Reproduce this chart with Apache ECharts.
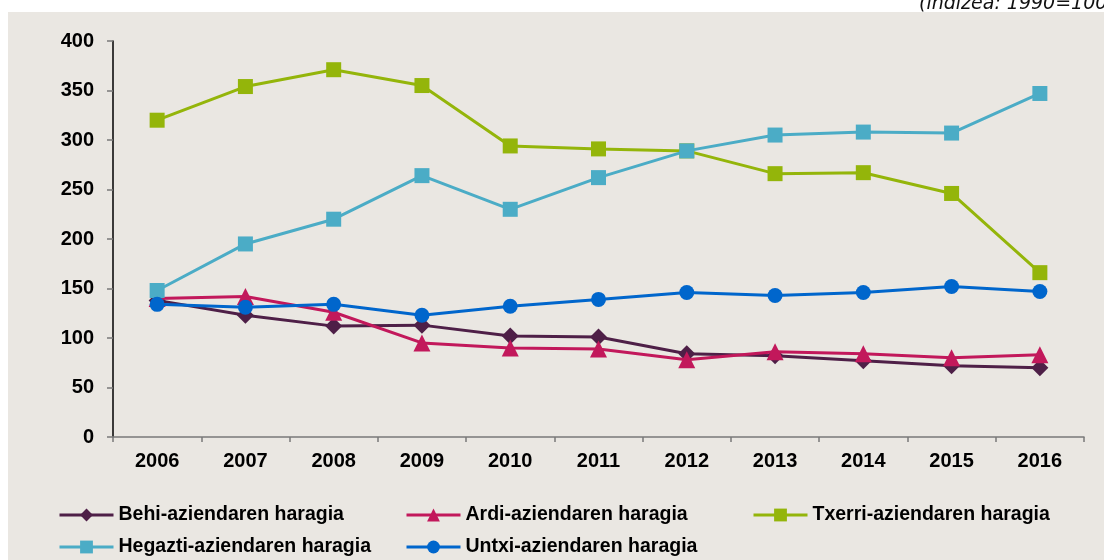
<!DOCTYPE html>
<html>
<head>
<meta charset="utf-8">
<title>Haragiaren prezio indizeak</title>
<script src="https://cdn.jsdelivr.net/npm/echarts@6/dist/echarts.min.js"></script>
<style>
  html, body { margin: 0; padding: 0; background: #ffffff; }
  #chart { width: 1104px; height: 560px; }
</style>
</head>
<body>
<div id="chart"></div>
<script>
// Years on the category axis
const years = ['2006', '2007', '2008', '2009', '2010', '2011', '2012', '2013', '2014', '2015', '2016'];

// Index values (1990 = 100) per meat type
const behi    = [138, 123, 112, 113, 102, 101, 84, 82, 77, 72, 70];
const ardi    = [140, 142, 126, 95, 90, 89, 78, 86, 84, 80, 83];
const txerri  = [320, 354, 371, 355, 294, 291, 289, 266, 267, 246, 166];
const hegazti = [148, 195, 220, 264, 230, 262, 289, 305, 308, 307, 347];
const untxi   = [134, 131, 134, 123, 132, 139, 146, 143, 146, 152, 147];

// Value axis range
const yMin = 0, yMax = 400, yStep = 50;

const names = [
  'Behi-aziendaren haragia',
  'Ardi-aziendaren haragia',
  'Txerri-aziendaren haragia',
  'Hegazti-aziendaren haragia',
  'Untxi-aziendaren haragia'
];

const colors = ['#4e1f47', '#c2185b', '#94b50a', '#4bacc6', '#0066cc'];
const symbols = ['diamond', 'triangle', 'rect', 'rect', 'circle'];
const symbolSizes = [17, 17, 15, 15, 15];
const values = [behi, ardi, txerri, hegazti, untxi];

const font = '"Liberation Sans", Arial, sans-serif';

const series = names.map((name, i) => ({
  name: name,
  type: 'line',
  data: values[i],
  symbol: symbols[i],
  symbolSize: symbolSizes[i],
  showAllSymbol: true,
  lineStyle: { width: 3, color: colors[i] },
  itemStyle: { color: colors[i] },
  emphasis: { disabled: true },
  z: 2 + i
}));

// One legend per entry so each sits in its own column/row slot
const legendSlots = [
  { left: 58,  top: 505 },
  { left: 405, top: 505 },
  { left: 752, top: 505 },
  { left: 58,  top: 537 },
  { left: 405, top: 537 }
];
const legends = names.map((name, i) => ({
  data: [name],
  left: legendSlots[i].left,
  top: legendSlots[i].top,
  padding: 0,
  itemWidth: 54,
  itemHeight: 16,
  itemGap: 5,
  selectedMode: false,
  lineStyle: { width: 3 },
  textStyle: { fontFamily: font, fontWeight: 'bold', fontSize: 19.5, color: '#000' }
}));

const chart = echarts.init(document.getElementById('chart'), null, { renderer: 'canvas' });
chart.setOption({
  animation: false,
  backgroundColor: '#ffffff',
  graphic: [
    {
      type: 'rect',
      z: -10,
      silent: true,
      shape: { x: 8, y: 12, width: 1096, height: 548 },
      style: { fill: '#eae7e2' }
    },
    {
      // Unit note, partly running off the top edge of the canvas
      type: 'text',
      z: 10,
      silent: true,
      x: 919,
      y: 14,
      style: {
        text: '(indizea: 1990=100)',
        font: 'italic 19px "DejaVu Sans", Verdana, sans-serif',
        fill: '#111',
        verticalAlign: 'bottom'
      }
    }
  ],
  grid: { left: 113, right: 20, top: 41, bottom: 123, containLabel: false },
  legend: legends,
  xAxis: {
    type: 'category',
    data: years,
    boundaryGap: true,
    axisLine: { lineStyle: { color: '#7a7a7a', width: 1.5 } },
    axisTick: { show: true, interval: 0, length: 5, lineStyle: { color: '#7a7a7a', width: 1.5 } },
    axisLabel: { margin: 14, fontFamily: font, fontWeight: 'bold', fontSize: 20, color: '#000' },
    splitLine: { show: false }
  },
  yAxis: {
    type: 'value',
    min: yMin,
    max: yMax,
    interval: yStep,
    axisLine: { show: true, lineStyle: { color: '#000', width: 1.5 } },
    axisTick: { show: true, length: 6, lineStyle: { color: '#7a7a7a', width: 1.5 } },
    axisLabel: { margin: 19, fontFamily: font, fontWeight: 'bold', fontSize: 20, color: '#000' },
    splitLine: { show: false }
  },
  series: series
});
</script>
</body>
</html>
